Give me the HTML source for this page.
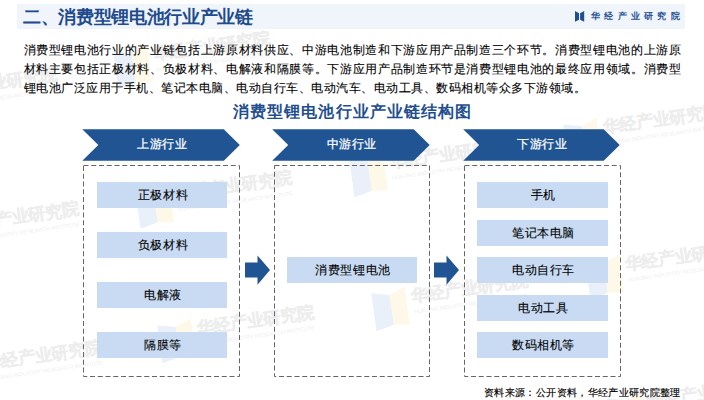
<!DOCTYPE html>
<html><head><meta charset="utf-8">
<style>
*{margin:0;padding:0;box-sizing:border-box}
html,body{width:704px;height:400px;overflow:hidden;background:#fff}
body{position:relative;transform:translateZ(0);font-family:"Liberation Sans",sans-serif;color:#000}
.abs{position:absolute}
.hdr{left:17px;top:4px;width:668px;height:25px;background:#f0f4fb}
.title{left:23px;top:4.5px;height:25px;line-height:25px;font-size:18px;letter-spacing:-0.35px;font-weight:bold;color:#1d4b8d;white-space:nowrap}
.brand{left:591px;top:4px;height:25px;line-height:25px;font-size:9px;font-weight:bold;color:#2a5597;letter-spacing:4.3px;white-space:nowrap}
.para{left:23.5px;top:40.6px;width:670px;font-size:12px;letter-spacing:0.5px;line-height:18.9px;color:#000;-webkit-text-stroke:0.1px #000;white-space:nowrap}
.para div{height:18.9px;width:658px;white-space:normal;text-align:justify;text-align-last:justify}
.para div.last{text-align-last:left;width:auto;white-space:nowrap}
.ctitle{left:233px;top:100px;font-size:16px;letter-spacing:1.1px;font-weight:bold;color:#1f4e8f;white-space:nowrap;line-height:24px}
.lbl{color:#fff;-webkit-text-stroke:0.25px #fff;font-size:12px;letter-spacing:0.6px;text-align:center;line-height:31.6px;white-space:nowrap}
.box{border:1px dashed #5a5a5a}
.rect{background:#c8dbf2;padding-left:2px;font-size:12px;letter-spacing:0.6px;text-align:center;line-height:26px;height:26px;color:#000;-webkit-text-stroke:0.1px #000;white-space:nowrap}
.src{left:484px;top:384.7px;font-size:10px;letter-spacing:0.36px;line-height:16px;color:#000;-webkit-text-stroke:0.15px #000;white-space:nowrap}
</style></head><body>
<!-- watermarks -->
<svg class="abs" style="left:0;top:0" width="704" height="400" viewBox="0 0 704 400">
  <defs>
    <g id="wm">
      <polygon points="-39,-8 -21,-4 -21,26 -39,30" fill="#e9f0f9"/>
      <polygon points="-21,-4 -5,-10 -5,28 -21,26" fill="#fdf8e7"/>
      <text x="0" y="6" font-family="Liberation Sans" font-weight="bold" font-size="17" letter-spacing="-0.2" fill="#ededed" stroke="#ededed" stroke-width="0.15">华经产业研究院</text>
      <text x="1" y="18" font-family="Liberation Sans" font-size="5.5" fill="#efefef">HUAJING INDUSTRY RESEARCH INSTITUTE</text>
    </g>
  </defs>
  <use href="#wm" transform="translate(175,193.5) rotate(-8)"/>
  <use href="#wm" transform="translate(389,162) rotate(-8)"/>
  <use href="#wm" transform="translate(603,127) rotate(-8)"/>
  <use href="#wm" transform="translate(197,328) rotate(-8)"/>
  <use href="#wm" transform="translate(411,296) rotate(-8)"/>
  <use href="#wm" transform="translate(625,264) rotate(-8)"/>
  <use href="#wm" transform="translate(-38,224.5) rotate(-8)"/>
  <use href="#wm" transform="translate(-15,363) rotate(-8)"/>
  <use href="#wm" transform="translate(153,54) rotate(-8)"/>
  <use href="#wm" transform="translate(-60,90) rotate(-8)"/>
  <use href="#wm" transform="translate(647,401) rotate(-8)"/>
</svg>

<div class="abs hdr"></div>
<div class="abs title">二、消费型锂电池行业产业链</div>
<svg class="abs" style="left:575px;top:11px" width="10" height="11" viewBox="0 0 10 11">
  <polygon points="0,0 4,2.3 4,8.8 0,10.8" fill="#1f4e91"/>
  <polygon points="5.1,2.3 9.2,0 9.2,10.8 5.1,8.8" fill="#1f4e91"/>
</svg>
<div class="abs brand">华经产业研究院</div>

<div class="abs para" style="top:41px"><div>消费型锂电池行业的产业链包括上游原材料供应、中游电池制造和下游应用产品制造三个环节。消费型锂电池的上游原</div></div>
<div class="abs para" style="top:60px"><div>材料主要包括正极材料、负极材料、电解液和隔膜等。下游应用产品制造环节是消费型锂电池的最终应用领域。消费型</div></div>
<div class="abs para" style="top:79px"><div class="last">锂电池广泛应用于手机、笔记本电脑、电动自行车、电动汽车、电动工具、数码相机等众多下游领域。</div></div>

<div class="abs ctitle">消费型锂电池行业产业链结构图</div>

<!-- chevrons -->
<svg class="abs" style="left:0;top:0" width="704" height="400" viewBox="0 0 704 400">
  <polygon points="82.3,129.2 223.8,129.2 239.8,145 223.8,160.8 82.3,160.8 98.3,145" fill="#215492"/>
  <polygon points="272.2,129.2 413.7,129.2 429.7,145 413.7,160.8 272.2,160.8 288.2,145" fill="#215492"/>
  <polygon points="463.2,129.2 603.7,129.2 619.7,145 603.7,160.8 463.2,160.8 479.2,145" fill="#215492"/>
  <!-- arrows -->
  <polygon points="245,262.5 257.5,262.5 257.5,255.4 270,270 257.5,284.7 257.5,277.5 245,277.5" fill="#215492"/>
  <polygon points="434,262.5 446.5,262.5 446.5,255.4 459,270 446.5,284.7 446.5,277.5 434,277.5" fill="#215492"/>
  <!-- dashed boxes -->
  <rect x="83.5" y="165.5" width="156" height="211" fill="none" stroke="#666" stroke-width="1" stroke-dasharray="5,2.75"/>
  <rect x="274.5" y="165.5" width="155" height="211" fill="none" stroke="#666" stroke-width="1" stroke-dasharray="5,2.75"/>
  <rect x="464.5" y="165.5" width="156" height="211" fill="none" stroke="#666" stroke-width="1" stroke-dasharray="5,2.75"/>
</svg>
<div class="abs lbl" style="left:91.8px;top:129.2px;width:141px">上游行业</div>
<div class="abs lbl" style="left:280.8px;top:129.2px;width:142px">中游行业</div>
<div class="abs lbl" style="left:471.8px;top:129.2px;width:141px">下游行业</div>

<div class="abs rect" style="left:97px;top:182px;width:130px">正极材料</div>
<div class="abs rect" style="left:97px;top:232px;width:130px">负极材料</div>
<div class="abs rect" style="left:97px;top:282px;width:130px">电解液</div>
<div class="abs rect" style="left:97px;top:332px;width:130px">隔膜等</div>

<div class="abs rect" style="left:287px;top:257px;width:130px">消费型锂电池</div>

<div class="abs rect" style="left:477px;top:182px;width:131px">手机</div>
<div class="abs rect" style="left:477px;top:219.5px;width:131px">笔记本电脑</div>
<div class="abs rect" style="left:477px;top:257px;width:131px">电动自行车</div>
<div class="abs rect" style="left:477px;top:294.5px;width:131px">电动工具</div>
<div class="abs rect" style="left:477px;top:332px;width:131px">数码相机等</div>

<div class="abs src">资料来源：公开资料，华经产业研究院整理</div>
</body></html>
